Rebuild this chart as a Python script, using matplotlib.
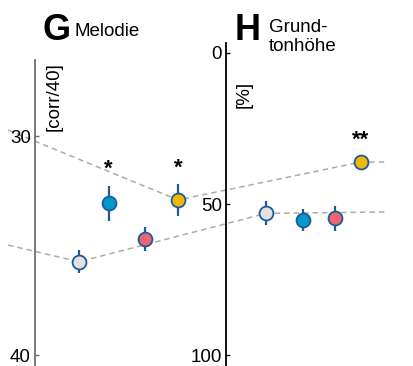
import matplotlib
matplotlib.use("Agg")
import matplotlib.pyplot as plt
from matplotlib.lines import Line2D

plt.rcParams['font.family'] = ['Liberation Sans', 'DejaVu Sans']

# conditions: grey, blue, red, yellow
fills = ['#e2e2e2', '#0099cc', '#ee6470', '#f2b705']

# G: Melodie [corr/40]
mel_vals = [35.74, 33.07, 34.72, 32.92]
mel_err = [0.52, 0.80, 0.55, 0.71]
mel_stars = ['', '*', '', '*']
mel_ticks = [30, 40]

# H: Grundtonhöhe [%]
f0_vals = [53.1, 55.3, 54.7, 36.1]
f0_err = [4.0, 3.7, 4.2, 2.0]
f0_stars = ['', '', '', '**']
f0_ticks = [0, 50, 100]

# dashed trend lines continue from / to neighbouring panels
upper_prev, upper_next = 29.73, 36.1
lower_prev, lower_next = 34.98, 52.6

edge = '#1b5b9b'

W, H = 413, 366
fig = plt.figure(figsize=(W / 100, H / 100), dpi=100)

ax_g = fig.add_axes([35 / W, 0, 165 / W, 306 / H])
ax_h = fig.add_axes([226 / W, 0, 187 / W, 323 / H])

pos_g = [1, 1.9, 3.0, 4.0]
pos_h = [1, 2.12, 3.09, 3.88]


def panel(ax, pos, vals, errs, stars, ticks, ylim, xlim, spine_col):
    ax.set_facecolor('none')
    for x, v, e, c, s in zip(pos, vals, errs, fills, stars):
        ax.errorbar(x, v, yerr=e, fmt='o', ms=10, mfc=c, mec=edge, mew=1.3,
                    ecolor=edge, elinewidth=1.6, capsize=0, zorder=3)
        if s:
            ax.annotate(s, (x, v - e), xytext=(0, 4),
                        textcoords='offset points', ha='center', va='bottom',
                        fontsize=16, fontweight='bold')
    ax.set_xlim(*xlim)
    ax.set_ylim(*ylim)
    ax.set_yticks(ticks)
    ax.set_xticks([])
    for sp in ['top', 'right', 'bottom']:
        ax.spines[sp].set_visible(False)
    ax.spines['left'].set_color(spine_col)
    ax.spines['left'].set_linewidth(1.3)
    ax.tick_params(axis='y', direction='in', length=3, width=1,
                   color=spine_col, labelsize=13.5, pad=3)


panel(ax_g, pos_g, mel_vals, mel_err, mel_stars, mel_ticks,
      (40.5, 26.53), (-0.333, 4.667), '#6e6e6e')
panel(ax_h, pos_h, f0_vals, f0_err, f0_stars, f0_ticks,
      (103.6, -3.3), (-0.212, 5.455), 'black')

# connecting dashed lines across both panels
inv = fig.transFigure.inverted()


def link(prev_y, i, next_y):
    pts = [ax_g.transData.transform((-1.15, prev_y)),
           ax_g.transData.transform((pos_g[i], mel_vals[i])),
           ax_h.transData.transform((pos_h[i], f0_vals[i])),
           ax_h.transData.transform((4.7, next_y))]
    pts = inv.transform(pts)
    ln = Line2D(pts[:, 0], pts[:, 1], transform=fig.transFigure,
                color='#ababab', lw=1.1, ls=(0, (3.6, 2.6)), zorder=1,
                clip_on=False)
    ax_g.add_line(ln)


link(upper_prev, 3, upper_next)
link(lower_prev, 0, lower_next)

# titles and units
fig.text(43 / W, 1 - 31 / H, 'G', fontsize=26, fontweight='bold', va='center')
fig.text(75 / W, 1 - 31 / H, 'Melodie', fontsize=13.5, va='center')
fig.text(235 / W, 1 - 30 / H, 'H', fontsize=26, fontweight='bold', va='center')
fig.text(269 / W, 1 - 37 / H, 'Grund-\ntonhöhe', fontsize=13.5, va='center',
         linespacing=1.15)
fig.text(54 / W, 1 - 97 / H, '[corr/40]', fontsize=13.5, rotation=90,
         ha='center', va='center')
fig.text(244 / W, 1 - 94 / H, '[%]', fontsize=13.5, rotation=90,
         ha='center', va='center')

fig.savefig('out.png', dpi=100)
